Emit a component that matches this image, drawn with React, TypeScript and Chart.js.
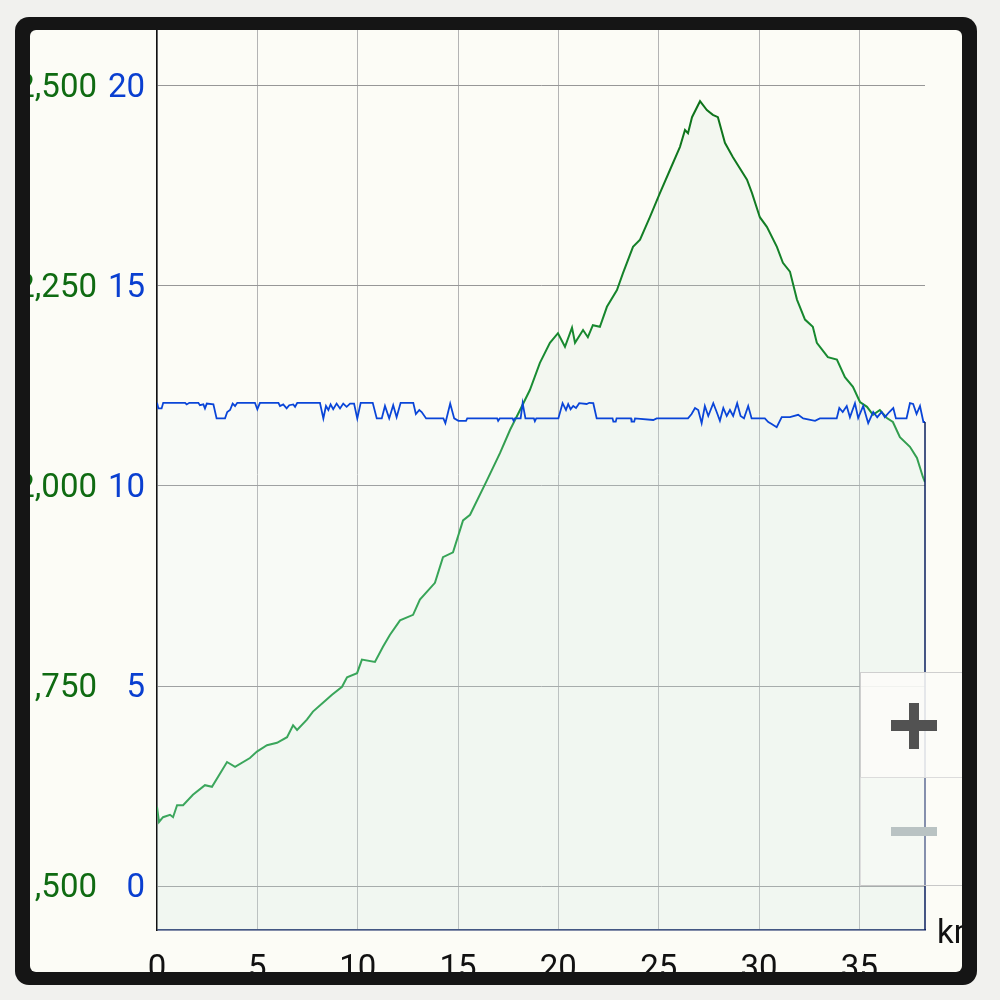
import React, { useEffect, useRef } from "react";
import { Chart, registerables } from "chart.js";

Chart.register(...registerables);

// Distance (km) and speed (blue axis)
const blueKm = [
  0, 0.07, 0.23, 0.31, 1.4, 1.48, 1.61, 2.06, 2.14, 2.31, 2.39, 2.48, 2.81, 2.97, 3.39, 3.5, 3.64, 3.77, 3.89, 4.0,
  4.88, 5.0, 5.13, 6.05, 6.13, 6.29, 6.46, 6.59, 6.79, 6.88, 6.99, 8.12, 8.29, 8.42, 8.54, 8.65, 8.78, 8.95, 9.12, 9.28,
  9.45, 9.62, 9.82, 9.98, 10.15, 10.75, 10.95, 11.2, 11.36, 11.57, 11.77, 11.94, 12.14, 12.77, 12.9, 13.07, 13.19, 13.41, 14.27, 14.37,
  14.61, 14.81, 15.02, 15.4, 15.46, 16.95, 17.0, 17.08, 17.72, 17.77, 17.83, 18.12, 18.22, 18.36, 18.78, 18.83, 18.9, 20.0, 20.21, 20.38,
  20.49, 20.61, 20.74, 20.88, 21.04, 21.41, 21.54, 21.74, 21.91, 22.7, 22.74, 22.86, 22.9, 23.62, 23.65, 23.78, 23.82, 24.73, 24.9, 26.46,
  26.64, 26.81, 26.97, 27.14, 27.3, 27.47, 27.72, 27.89, 28.05, 28.22, 28.39, 28.55, 28.71, 28.91, 29.08, 29.25, 29.46, 29.63, 30.29, 30.46,
  30.63, 30.88, 31.13, 31.54, 31.95, 32.2, 32.79, 33.03, 33.87, 34.0, 34.17, 34.37, 34.53, 34.78, 34.94, 35.19, 35.44, 35.69, 35.89, 36.11,
  36.27, 36.49, 36.69, 36.82, 37.35, 37.52, 37.68, 37.85, 38.02, 38.19, 38.27,
];
const blueSpeed = [
  12.08, 11.94, 11.94, 12.08, 12.08, 12.04, 12.08, 12.08, 12.02, 12.04, 11.94, 12.06, 12.04, 11.69, 11.69, 11.85, 11.9, 12.06, 12.0, 12.08,
  12.08, 11.92, 12.08, 12.08, 12.0, 12.04, 11.94, 12.02, 12.04, 11.98, 12.08, 12.08, 11.69, 12.0, 11.9, 12.04, 11.92, 12.06, 11.94, 12.06,
  11.98, 12.06, 12.06, 11.69, 12.08, 12.08, 11.69, 11.69, 12.0, 11.69, 12.02, 11.72, 12.08, 12.08, 11.8, 11.9, 11.85, 11.69, 11.69, 11.57,
  12.06, 11.69, 11.63, 11.63, 11.69, 11.69, 11.63, 11.69, 11.69, 11.63, 11.69, 11.69, 12.07, 11.69, 11.69, 11.62, 11.69, 11.69, 12.07, 11.9,
  12.05, 11.92, 12.0, 11.95, 12.07, 12.05, 12.08, 12.07, 11.69, 11.69, 11.61, 11.61, 11.69, 11.69, 11.61, 11.61, 11.69, 11.65, 11.69, 11.69,
  11.8, 11.95, 11.9, 11.57, 12.0, 11.75, 12.07, 11.85, 11.63, 11.95, 11.75, 11.9, 11.75, 12.07, 11.75, 11.69, 12.0, 11.69, 11.69, 11.6,
  11.55, 11.47, 11.72, 11.72, 11.78, 11.69, 11.63, 11.69, 11.69, 11.95, 11.85, 12.0, 11.72, 12.07, 11.7, 12.0, 11.57, 11.85, 11.72, 11.85,
  11.72, 11.85, 11.95, 11.69, 11.69, 12.07, 12.05, 11.8, 12.0, 11.6, 11.6,
];

// Distance (km) and elevation (green axis)
const greenKm = [
  0, 0.1, 0.3, 0.65, 0.8, 1.0, 1.3, 1.79, 2.39, 2.74, 3.49, 3.89, 4.63, 4.98, 5.48, 5.98, 6.48, 6.78, 6.98, 7.47,
  7.77, 8.27, 8.72, 9.22, 9.47, 9.97, 10.21, 10.86, 11.26, 11.61, 12.11, 12.76, 13.1, 13.85, 14.25, 14.75, 15.25, 15.6, 16.44, 17.09,
  17.59, 18.09, 18.58, 19.08, 19.58, 19.98, 20.33, 20.68, 20.83, 21.23, 21.47, 21.72, 22.07, 22.42, 22.92, 23.22, 23.72, 24.07, 24.56, 25.06,
  25.56, 26.06, 26.31, 26.46, 26.66, 27.06, 27.4, 27.7, 27.95, 28.3, 28.7, 29.4, 29.65, 30.04, 30.39, 30.89, 31.19, 31.54, 31.89, 32.29,
  32.68, 32.88, 33.43, 33.88, 34.28, 34.68, 35.03, 35.38, 35.68, 36.02, 36.37, 36.67, 37.02, 37.52, 37.87, 38.17, 38.27,
];
const greenElev = [
  1599, 1580, 1586, 1589, 1586, 1601, 1601, 1614, 1626, 1624, 1655, 1649, 1660, 1668, 1676, 1679, 1686, 1701, 1695, 1708,
  1718, 1729, 1739, 1749, 1761, 1766, 1783, 1780, 1799, 1814, 1832, 1839, 1858, 1879, 1911, 1917, 1957, 1964, 2007, 2041,
  2070, 2095, 2120, 2154, 2179, 2191, 2174, 2198, 2179, 2195, 2186, 2201, 2199, 2224, 2245, 2266, 2299, 2308, 2336, 2366,
  2395, 2424, 2445, 2441, 2461, 2481, 2470, 2464, 2461, 2429, 2411, 2383, 2366, 2336, 2324, 2299, 2279, 2268, 2233, 2208,
  2199, 2179, 2161, 2158, 2136, 2124, 2105, 2099, 2089, 2095, 2085, 2080, 2061, 2049, 2035, 2011, 2005,
];

const kmTicks = [0, 5, 10, 15, 20, 25, 30, 35];
const speedTicks = [0, 5, 10, 15, 20];
const elevTicks = [1500, 1750, 2000, 2250, 2500];

const FONT = "Roboto";
const FSIZE = 33;

const edgePlugin = {
  id: "blueEdge",
  afterDatasetsDraw(chart: any) {
    const meta = chart.getDatasetMeta(0);
    const pts = meta.data;
    if (!pts || !pts.length) return;
    const last = pts[pts.length - 1];
    const { ctx, chartArea } = chart;
    ctx.save();
    ctx.strokeStyle = "#0b1f5e";
    ctx.lineWidth = 1.5;
    ctx.beginPath();
    ctx.moveTo(last.x, last.y);
    ctx.lineTo(last.x, chartArea.bottom);
    ctx.stroke();
    ctx.restore();
  },
};

const noPadY = (w: number) => (s: any) => {
  s.width = w;
  s.paddingTop = 0;
  s.paddingBottom = 0;
};

export default function App() {
  const ref = useRef<HTMLCanvasElement | null>(null);

  useEffect(() => {
    if (!ref.current) return;
    const greenGrad = (context: any) => {
      const { chart } = context;
      const { ctx, chartArea } = chart;
      if (!chartArea) return "#1a8a30";
      const g = ctx.createLinearGradient(0, chartArea.bottom, 0, chartArea.top);
      g.addColorStop(0, "#2a9e4c");
      g.addColorStop(0.45, "#1f9a40");
      g.addColorStop(1, "#0a6a12");
      return g;
    };
    const chart = new Chart(ref.current, {
      type: "line",
      data: {
        datasets: [
          {
            label: "speed",
            data: blueKm.map((x, i) => ({ x, y: blueSpeed[i] })),
            yAxisID: "ySpeed",
            borderColor: "#0a45d8",
            borderWidth: 1.8,
            pointRadius: 0,
            tension: 0,
            fill: "start",
            backgroundColor: "rgba(225,235,245,0.12)",
            order: 1,
          },
          {
            label: "elevation",
            data: greenKm.map((x, i) => ({ x, y: greenElev[i] })),
            yAxisID: "yElev",
            borderColor: greenGrad,
            borderWidth: 2,
            pointRadius: 0,
            tension: 0,
            fill: "start",
            backgroundColor: "rgba(205,225,214,0.18)",
            order: 2,
          },
        ],
      },
      options: {
        animation: false,
        responsive: false,
        devicePixelRatio: 1,
        layout: { padding: { left: 0, right: 75, top: 20, bottom: 0 } },
        plugins: { legend: { display: false }, tooltip: { enabled: false } },
        scales: {
          x: {
            type: "linear",
            min: 0,
            max: 38.27,
            afterFit: (s: any) => {
              s.height = 70;
              s.paddingLeft = 0;
              s.paddingRight = 0;
            },
            afterBuildTicks: (s: any) => {
              s.ticks = kmTicks.map((v) => ({ value: v }));
            },
            ticks: {
              autoSkip: false,
              maxRotation: 0,
              padding: 20,
              color: "#111111",
              font: { family: FONT, size: FSIZE },
              callback: (v: any) => String(v),
            },
            grid: { color: "#b4b4b4", lineWidth: 1, drawTicks: false },
            border: { display: true, color: "#0b1f5e", width: 1.5 },
          },
          ySpeed: {
            type: "linear",
            position: "left",
            weight: 0,
            min: -1.1,
            max: 21.65,
            afterFit: noPadY(57),
            afterBuildTicks: (s: any) => {
              s.ticks = speedTicks.map((v) => ({ value: v }));
            },
            ticks: {
              padding: 12,
              labelOffset: 3,
              color: "#0a3fd0",
              font: { family: FONT, size: FSIZE },
              callback: (v: any) => String(v),
            },
            grid: { color: "#979797", lineWidth: 1, drawTicks: false },
            border: { display: true, color: "#111111", width: 1.5 },
          },
          yElev: {
            type: "linear",
            position: "left",
            weight: 10,
            min: 1445,
            max: 2582.5,
            afterFit: noPadY(100),
            afterBuildTicks: (s: any) => {
              s.ticks = elevTicks.map((v) => ({ value: v }));
            },
            ticks: {
              padding: 3,
              labelOffset: 3,
              color: "#0f6b12",
              font: { family: FONT, size: FSIZE },
              callback: (v: any) => Number(v).toLocaleString("en-US"),
            },
            grid: { display: false, drawTicks: false },
            border: { display: false },
          },
        },
      },
      plugins: [edgePlugin],
    });
    return () => chart.destroy();
  }, []);

  return (
    <div
      style={{
        position: "fixed",
        left: 0,
        top: 0,
        width: 1000,
        height: 1000,
        background: "#f1f1ee",
        overflow: "hidden",
      }}
    >
      <div
        style={{
          position: "absolute",
          left: 15,
          top: 17,
          width: 962,
          height: 968,
          background: "#151515",
          borderRadius: 14,
        }}
      />
      <div
        style={{
          position: "absolute",
          left: 30,
          top: 30,
          width: 932,
          height: 942,
          background: "#fcfcf6",
          borderRadius: 6,
          overflow: "hidden",
        }}
      >
        <canvas
          ref={ref}
          width={1000}
          height={1000}
          style={{ position: "absolute", left: -30, top: -30, width: 1000, height: 1000 }}
        />
        <div
          style={{
            position: "absolute",
            left: 937 - 30,
            top: 915 - 30,
            fontFamily: FONT,
            fontSize: 33,
            lineHeight: "33px",
            color: "#111",
            whiteSpace: "nowrap",
          }}
        >
          km
        </div>
        {/* zoom control */}
        <div
          style={{
            position: "absolute",
            left: 860 - 30,
            top: 672 - 30,
            width: 140,
            height: 106,
            boxSizing: "border-box",
            background: "rgba(252,252,248,0.88)",
            borderLeft: "1px solid #cfcfcf",
            borderTop: "1px solid #cfcfcf",
            borderBottom: "1px solid #dcdcdc",
          }}
        />
        <div
          style={{
            position: "absolute",
            left: 860 - 30,
            top: 778 - 30,
            width: 140,
            height: 108,
            boxSizing: "border-box",
            background: "rgba(252,252,248,0.35)",
            borderLeft: "1px solid #dedede",
            borderBottom: "1px solid #c8c8c8",
          }}
        />
        <div style={{ position: "absolute", left: 891 - 30, top: 720 - 30, width: 46, height: 11, background: "#525252" }} />
        <div style={{ position: "absolute", left: 909 - 30, top: 703 - 30, width: 10, height: 46, background: "#525252" }} />
        <div style={{ position: "absolute", left: 891 - 30, top: 827 - 30, width: 46, height: 9, background: "#b9c3c3" }} />
      </div>
    </div>
  );
}
